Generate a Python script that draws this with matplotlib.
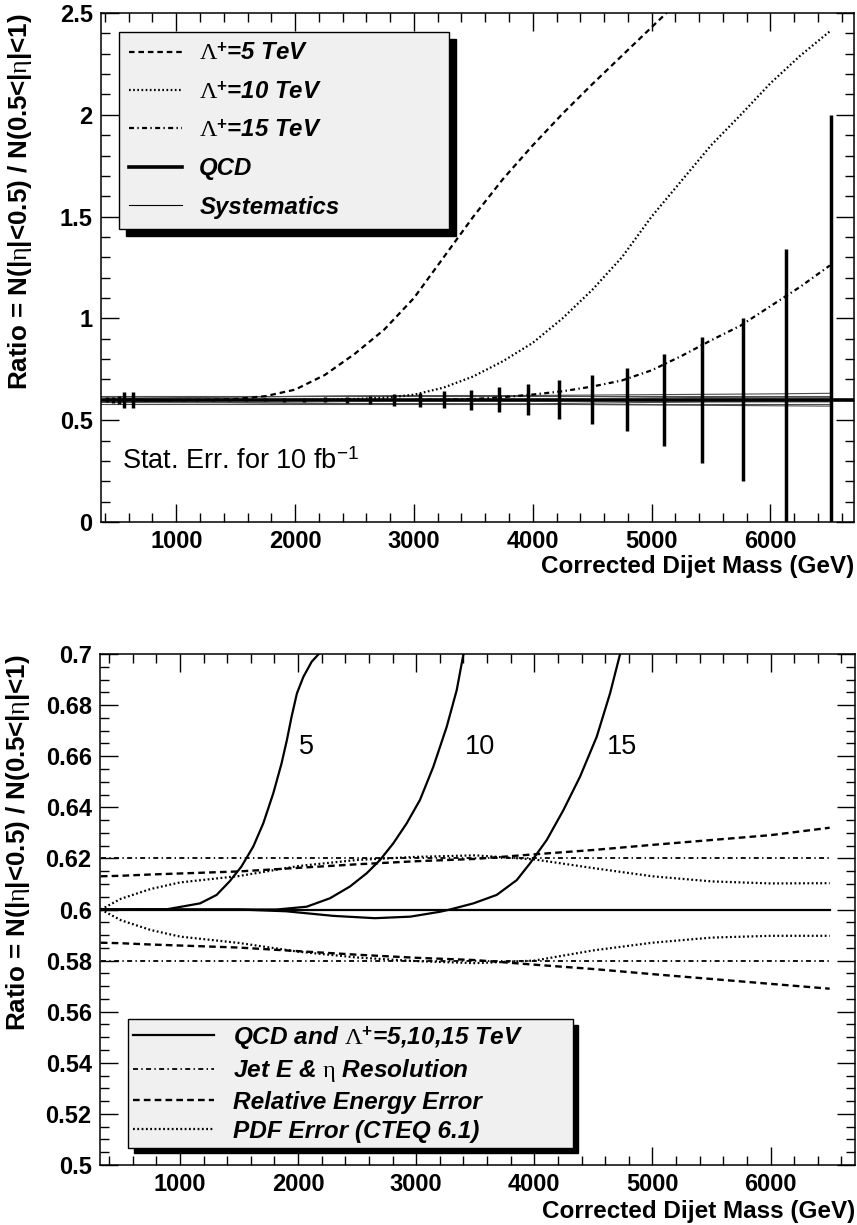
import numpy as np
import matplotlib
matplotlib.use("Agg")
import matplotlib.pyplot as plt
from matplotlib.ticker import MultipleLocator, FormatStrFormatter
from matplotlib.lines import Line2D

plt.rcParams["font.family"] = ["Liberation Sans", "DejaVu Sans"]
plt.rcParams["mathtext.fontset"] = "custom"
plt.rcParams["mathtext.rm"] = "Liberation Serif"
plt.rcParams["mathtext.it"] = "Liberation Serif:italic"
plt.rcParams["mathtext.bf"] = "Liberation Sans:bold"
plt.rcParams["mathtext.sf"] = "Liberation Sans"
plt.rcParams["lines.scale_dashes"] = False

# === Top panel: QCD ratio with stat. errors for 10 fb^-1 ===
bin_mass = [418, 466, 514, 563, 637, 736, 834, 940, 1054, 1176, 1306, 1444,
            1590, 1744, 1906, 2076, 2254, 2440, 2634, 2836, 3048, 3251, 3476,
            3712, 3957, 4222, 4501, 4792, 5101, 5426, 5768, 6132, 6510]
bin_ratio = [0.6, 0.6, 0.6, 0.6, 0.6, 0.6, 0.6, 0.6, 0.6, 0.6, 0.6, 0.6,
             0.6, 0.6, 0.6, 0.6, 0.6, 0.6, 0.6, 0.6, 0.6, 0.6, 0.6,
             0.6, 0.6, 0.6, 0.6, 0.6, 0.6, 0.6, 0.6, 0.6, 0.6]
stat_err = [0.012, 0.015, 0.02, 0.038, 0.038, 0.004, 0.004, 0.004, 0.005, 0.005,
            0.006, 0.006, 0.007, 0.008, 0.009, 0.011, 0.013, 0.016, 0.021, 0.028,
            0.035, 0.041, 0.05, 0.062, 0.077, 0.095, 0.12, 0.154, 0.227, 0.31,
            0.40, 0.74, 1.40]
qcd_ratio = 0.6

lam5_mass = [1000, 1250, 1500, 1750, 2000, 2250, 2500, 2750, 3000, 3250, 3500,
             3750, 4000, 4250, 4500, 4750, 5000, 5250]
lam5_ratio = [0.600, 0.600, 0.604, 0.618, 0.650, 0.722, 0.825, 0.945, 1.10,
              1.30, 1.50, 1.685, 1.85, 2.005, 2.15, 2.29, 2.43, 2.57]
lam10_mass = [2000, 2250, 2500, 2750, 3000, 3250, 3500, 3750, 4000, 4250, 4500,
              4750, 5000, 5250, 5500, 5750, 6000, 6250, 6500]
lam10_ratio = [0.600, 0.601, 0.604, 0.610, 0.625, 0.66, 0.715, 0.79, 0.88, 1.00,
               1.14, 1.30, 1.50, 1.675, 1.85, 2.00, 2.155, 2.29, 2.41]
lam15_mass = [3000, 3250, 3500, 3750, 4000, 4250, 4500, 4750, 5000, 5250, 5500,
              5750, 6000, 6250, 6500]
lam15_ratio = [0.600, 0.601, 0.604, 0.613, 0.626, 0.642, 0.665, 0.695, 0.745,
               0.815, 0.892, 0.965, 1.06, 1.155, 1.26]

# === Systematic uncertainty curves (both panels) ===
sys_mass = [330, 500, 750, 1000, 1500, 2000, 2500, 3000, 3500, 4000, 4500, 5000,
            5500, 6000, 6500]
res_up = [0.62, 0.62, 0.62, 0.62, 0.62, 0.62, 0.62, 0.62, 0.62, 0.62, 0.62, 0.62,
          0.62, 0.62, 0.62]
res_dn = [0.58, 0.58, 0.58, 0.58, 0.58, 0.58, 0.58, 0.58, 0.58, 0.58, 0.58, 0.58,
          0.58, 0.58, 0.58]
rel_up = [0.613, 0.6132, 0.6137, 0.6141, 0.6149, 0.6163, 0.6177, 0.6189, 0.6198,
          0.6216, 0.6233, 0.6253, 0.6272, 0.6291, 0.632]
rel_dn = [0.587, 0.5868, 0.5863, 0.5859, 0.5851, 0.5837, 0.5823, 0.5811, 0.5802,
          0.5784, 0.5767, 0.5747, 0.5728, 0.5709, 0.569]
pdf_up = [0.600, 0.6042, 0.608, 0.6106, 0.6131, 0.6170, 0.6194, 0.6206, 0.6212,
          0.6196, 0.6162, 0.6130, 0.6110, 0.6102, 0.6103]
pdf_dn = [0.600, 0.5958, 0.592, 0.5894, 0.5869, 0.5835, 0.5812, 0.5798, 0.5790,
          0.5800, 0.5840, 0.5870, 0.5890, 0.5897, 0.5897]

# === Bottom panel: QCD and contact interaction curves ===
qcd_mass = [330, 6500]
qcd_line = [0.6, 0.6]
b5_mass = [330, 890, 1170, 1310, 1420, 1520, 1620, 1705, 1790, 1860, 1905, 1945,
           1990, 2045, 2115, 2185, 2230]
b5_ratio = [0.600, 0.6001, 0.6024, 0.6057, 0.611, 0.6168, 0.6246, 0.6337, 0.6455,
            0.6572, 0.6663, 0.6755, 0.6846, 0.6911, 0.697, 0.7005, 0.7005]
b10_mass = [330, 1819, 2073, 2270, 2439, 2581, 2694, 2806, 2919, 3032, 3145, 3258,
            3343, 3400, 3430]
b10_ratio = [0.600, 0.600, 0.6011, 0.6044, 0.609, 0.6142, 0.6194, 0.6259, 0.6337,
             0.6429, 0.6559, 0.6715, 0.6859, 0.700, 0.706]
b15_mass = [330, 1500, 1900, 2300, 2650, 2950, 3200, 3286, 3484, 3681, 3851, 3964,
            4105, 4246, 4387, 4528, 4641, 4726, 4750]
b15_ratio = [0.600, 0.600, 0.5993, 0.5975, 0.5966, 0.5972, 0.5991, 0.600, 0.6024,
             0.6057, 0.6115, 0.6181, 0.6272, 0.6389, 0.652, 0.6676, 0.6846, 0.700,
             0.705]
curve_labels = ["5", "10", "15"]
curve_label_mass = [2073, 3540, 4740]
curve_label_ratio = [0.6637, 0.6637, 0.6637]

DASH = (0, (4.0, 2.8))
DOT = (0, (1.2, 1.8))
DASHDOT = (0, (3.6, 2.4, 1.0, 2.4))
FS = 17
ylab = r"Ratio = N(|$\mathrm{\eta}$|<0.5) / N(0.5<|$\mathrm{\eta}$|<1)"


def style_axes(ax, ymajor, yminor):
    ax.xaxis.set_major_locator(MultipleLocator(1000))
    ax.xaxis.set_minor_locator(MultipleLocator(200))
    ax.xaxis.set_major_formatter(FormatStrFormatter("%d"))
    ax.yaxis.set_major_locator(MultipleLocator(ymajor))
    ax.yaxis.set_minor_locator(MultipleLocator(yminor))
    ax.yaxis.set_major_formatter(plt.FuncFormatter(lambda v, p: "%g" % round(v, 4)))
    ax.tick_params(which="both", direction="in", top=True, right=True, width=1.0)
    ax.tick_params(which="major", length=13, labelsize=FS, pad=6)
    ax.tick_params(which="minor", length=6.5)
    for lab in ax.get_xticklabels() + ax.get_yticklabels():
        lab.set_fontweight("bold")
    for sp in ax.spines.values():
        sp.set_linewidth(1.1)
    ax.set_xlabel("Corrected Dijet Mass (GeV)", fontsize=17.5, fontweight="bold", loc="right")
    ax.set_ylabel(ylab, fontsize=18.7, fontweight="bold", loc="top")


fig = plt.figure(figsize=(8.57, 12.25), dpi=100)
ax1 = fig.add_axes([0.1179, 0.5739, 0.8786, 0.4155])
ax2 = fig.add_axes([0.1167, 0.0490, 0.8810, 0.4171])

# --- top panel ---
for up, dn in [(res_up, res_dn), (rel_up, rel_dn), (pdf_up, pdf_dn)]:
    ax1.plot(sys_mass, up, color="0.3", lw=0.8)
    ax1.plot(sys_mass, dn, color="0.3", lw=0.8)
ax1.axhline(qcd_ratio, color="black", lw=2.6)
ax1.errorbar(bin_mass, bin_ratio, yerr=stat_err, fmt="none", ecolor="black",
             elinewidth=2.5, capsize=0)
ax1.plot(lam5_mass, lam5_ratio, color="black", lw=1.6, ls=DASH)
ax1.plot(lam10_mass, lam10_ratio, color="black", lw=1.6, ls=DOT)
ax1.plot(lam15_mass, lam15_ratio, color="black", lw=1.6, ls=DASHDOT)
ax1.set_xlim(367, 6703)
ax1.set_ylim(0, 2.5)
style_axes(ax1, 0.5, 0.1)
ax1.xaxis.set_label_coords(1.0, -0.064)
ax1.yaxis.set_label_coords(-0.089, 1.0)
ax1.text(0.028, 0.118, r"Stat. Err. for 10 fb$^{\mathsf{-1}}$", transform=ax1.transAxes,
         fontsize=19.5, ha="left", va="center")

top_handles = [
    Line2D([], [], color="black", lw=1.6, ls=DASH, label=r"$\Lambda^{\mathbf{+}}$=5 TeV"),
    Line2D([], [], color="black", lw=1.6, ls=DOT, label=r"$\Lambda^{\mathbf{+}}$=10 TeV"),
    Line2D([], [], color="black", lw=1.6, ls=DASHDOT, label=r"$\Lambda^{\mathbf{+}}$=15 TeV"),
    Line2D([], [], color="black", lw=2.6, label="QCD"),
    Line2D([], [], color="black", lw=0.8, label="Systematics"),
]
leg1 = ax1.legend(handles=top_handles, loc="upper left",
                  bbox_to_anchor=(0.0239, 0.5874, 0.438, 0.3753), mode="expand",
                  frameon=True, fancybox=False, facecolor="#f0f0f0", edgecolor="black",
                  framealpha=1, borderaxespad=0, borderpad=0.42, labelspacing=0.64,
                  handlelength=2.2, handletextpad=0.72,
                  shadow={"ox": 5, "oy": -5, "facecolor": "black", "edgecolor": "black", "alpha": 1},
                  prop=dict(weight="bold", style="italic", size=17.3))
leg1.get_frame().set_linewidth(1.0)

# --- bottom panel ---
ax2.plot(sys_mass, res_up, color="black", lw=1.3, ls=DASHDOT)
ax2.plot(sys_mass, res_dn, color="black", lw=1.3, ls=DASHDOT)
ax2.plot(sys_mass, rel_up, color="black", lw=1.7, ls=(0, (4.8, 3.0)))
ax2.plot(sys_mass, rel_dn, color="black", lw=1.7, ls=(0, (4.8, 3.0)))
ax2.plot(sys_mass, pdf_up, color="black", lw=1.6, ls=(0, (1.3, 1.8)))
ax2.plot(sys_mass, pdf_dn, color="black", lw=1.6, ls=(0, (1.3, 1.8)))
ax2.plot(qcd_mass, qcd_line, color="black", lw=1.6)
ax2.plot(b5_mass, b5_ratio, color="black", lw=1.6)
ax2.plot(b10_mass, b10_ratio, color="black", lw=1.6)
ax2.plot(b15_mass, b15_ratio, color="black", lw=1.6)
for t, m, r in zip(curve_labels, curve_label_mass, curve_label_ratio):
    ax2.text(m, r, t, fontsize=19.5, ha="center", va="center")
ax2.set_xlim(323, 6715)
ax2.set_ylim(0.5, 0.7)
style_axes(ax2, 0.02, 0.005)
ax2.xaxis.set_label_coords(1.0, -0.068)
ax2.yaxis.set_label_coords(-0.09, 1.0)

bot_handles = [
    Line2D([], [], color="black", lw=1.6, label=r"QCD and $\Lambda^{\mathbf{+}}$=5,10,15 TeV"),
    Line2D([], [], color="black", lw=1.3, ls=DASHDOT, label=r"Jet E & $\mathrm{\eta}$ Resolution"),
    Line2D([], [], color="black", lw=1.7, ls=(0, (4.8, 3.0)), label="Relative Energy Error"),
    Line2D([], [], color="black", lw=1.6, ls=(0, (1.3, 1.8)), label="PDF Error (CTEQ 6.1)"),
]
leg2 = ax2.legend(handles=bot_handles, loc="upper left",
                  bbox_to_anchor=(0.037, 0.0352, 0.589, 0.2505), mode="expand",
                  frameon=True, fancybox=False, facecolor="#f0f0f0", edgecolor="black",
                  framealpha=1, borderaxespad=0, borderpad=0.2, labelspacing=0.26,
                  handlelength=3.3, handletextpad=0.8,
                  shadow={"ox": 4, "oy": -4, "facecolor": "black", "edgecolor": "black", "alpha": 1},
                  prop=dict(weight="bold", style="italic", size=17.6))
leg2.get_frame().set_linewidth(1.0)

fig.savefig("out.png", dpi=100)
